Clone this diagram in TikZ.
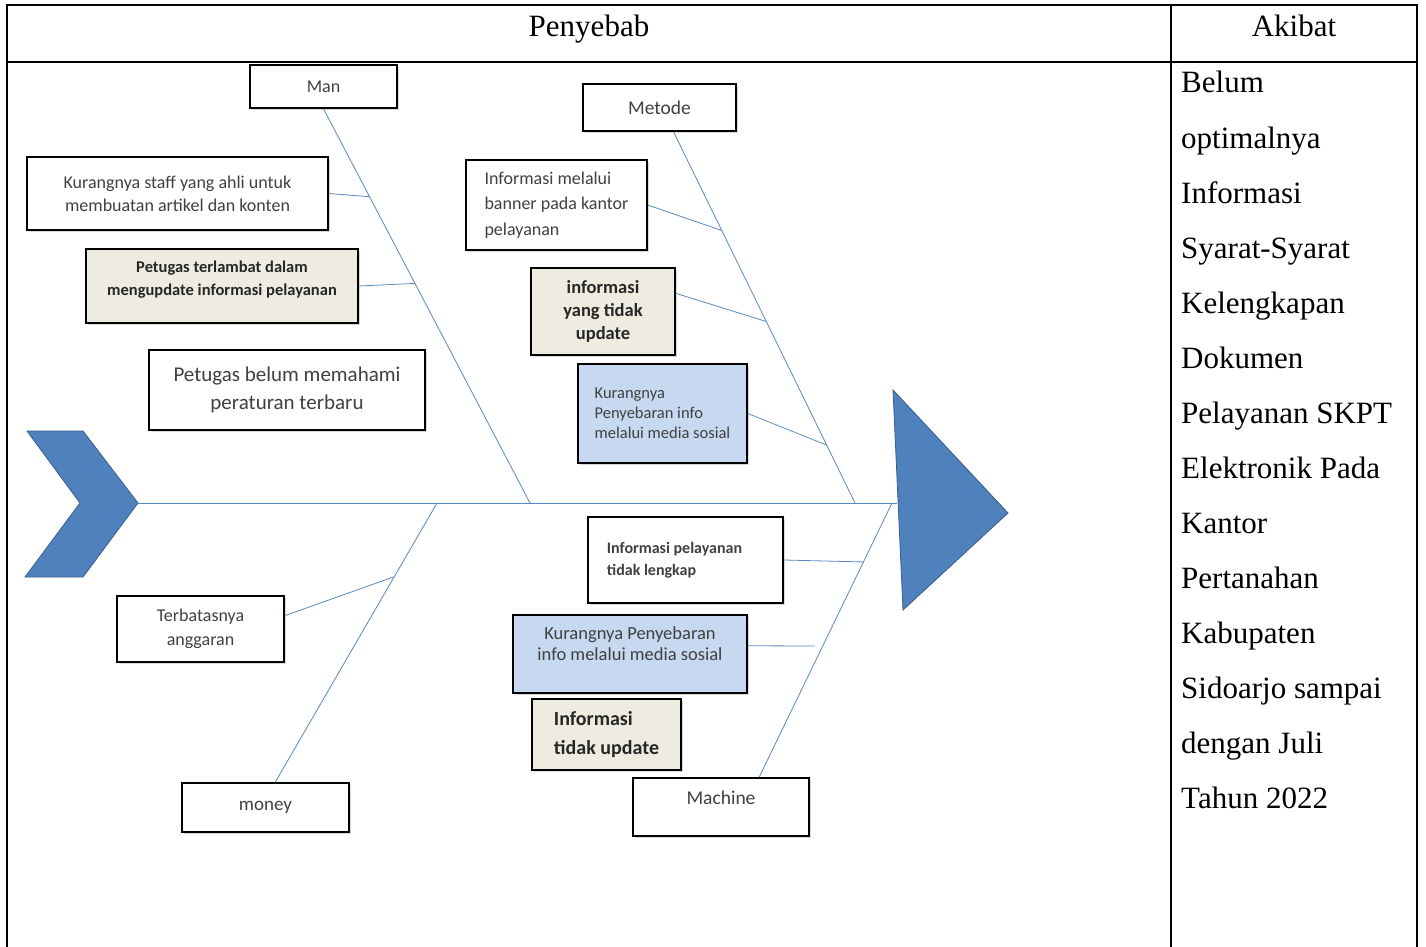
\documentclass[tikz,border=0pt]{standalone}
\usepackage{fontspec}
\setmainfont{Liberation Serif}
\newfontfamily\boxfont{Carlito}
\usetikzlibrary{positioning,shapes,shadows,arrows.meta}
\definecolor{fishblue}{HTML}{4F81BD}
\definecolor{fishedge}{HTML}{385D8A}
\definecolor{bonecol}{HTML}{5B87BE}
\definecolor{beigefill}{HTML}{EEECE1}
\definecolor{bluefill}{HTML}{C6D9F1}

\begin{document}
\begin{tikzpicture}[x=1pt,y=-1pt]
	\tikzstyle{cause}=[rectangle, draw=black, line width=1.6pt, fill=white,
	drop shadow={shadow xshift=1.5pt, shadow yshift=-2pt, opacity=0.3},
	inner sep=0pt, align=center, text=black!75]
	\tikzstyle{causebeige}=[cause, fill=beigefill, text=black!85]
	\tikzstyle{causeblue}=[cause, fill=bluefill]
	\tikzstyle{bone}=[draw=bonecol, line width=0.8pt]
	\tikzstyle{tableline}=[draw=black, line width=1.6pt]
	\tikzstyle{akibat}=[anchor=base west, inner sep=0pt, font=\fontsize{31}{37}\selectfont]
	\useasboundingbox (0,0) rectangle (1426,947);

	% table
	\draw[tableline] (7,947) -- (7,5) -- (1417,5) -- (1417,947);
	\draw[tableline] (7,62) -- (1417,62);
	\draw[tableline] (1171,5) -- (1171,947);
	\node (penyebab) [anchor=base, font=\fontsize{31}{37}\selectfont] at (589,37) {Penyebab};
	\node (akibatHead) [anchor=base, font=\fontsize{31}{37}\selectfont] at (1294,37) {Akibat};
	\foreach \word [count=\i] in {Belum, optimalnya, Informasi, Syarat-Syarat, Kelengkapan,
		Dokumen, Pelayanan SKPT, Elektronik Pada, Kantor, Pertanahan, Kabupaten,
		Sidoarjo sampai, dengan Juli, Tahun 2022}
	\node (eff\i) [akibat] at (1181,{93+55*(\i-1)}) {\word};

	% tail and head
	\draw[fill=fishblue, draw=fishedge, line width=0.8pt]
	(27,431) -- (83,431) -- (138,503) -- (83,577) -- (25,577) -- (80,503) -- cycle;
	\coordinate (tail) at (138,503);
	\coordinate (head) at (897,503);

	% causes
	\node (Man) [cause, minimum width=147pt, minimum height=43pt,
	font=\boxfont\fontsize{18}{22}\selectfont] at (323.5,86.5) {Man};
	\node (Staff) [cause, minimum width=301pt, minimum height=73pt,
	font=\boxfont\fontsize{18}{23}\selectfont] at (177.5,193.5)
	{Kurangnya staff yang ahli untuk\\membuatan artikel dan konten};
	\node (Terlambat) [causebeige, minimum width=272pt, minimum height=74pt,
	font=\boxfont\bfseries\fontsize{16.5}{23}\selectfont] at (222,286)
	{Petugas terlambat dalam\\mengupdate informasi pelayanan\\[-8pt]\mbox{}};
	\node (Memahami) [cause, minimum width=276pt, minimum height=80pt,
	font=\boxfont\fontsize{21}{28}\selectfont] at (287,390)
	{Petugas belum memahami\\peraturan terbaru};

	\node (Metode) [cause, minimum width=153pt, minimum height=47pt,
	font=\boxfont\fontsize{19.5}{23}\selectfont] at (659.5,107.5) {Metode};
	\node (Banner) [cause, minimum width=181pt, minimum height=90pt, align=left,
	font=\boxfont\fontsize{18}{25.5}\selectfont] at (556.5,205)
	{Informasi melalui\\banner pada kantor\\pelayanan};
	\node (TidakUpdA) [causebeige, minimum width=144pt, minimum height=87pt,
	font=\boxfont\bfseries\fontsize{18.5}{23}\selectfont] at (603,311.5)
	{informasi\\yang tidak\\update};
	\node (SosialA) [causeblue, minimum width=169pt, minimum height=99pt, align=left,
	font=\boxfont\fontsize{16.5}{20}\selectfont] at (662.5,413.5)
	{Kurangnya\\Penyebaran info\\melalui media sosial};

	\node (Terbatas) [cause, minimum width=167pt, minimum height=66pt,
	font=\boxfont\fontsize{18}{24}\selectfont] at (200.5,629)
	{Terbatasnya\\anggaran};
	\node (Money) [cause, minimum width=167pt, minimum height=49pt,
	font=\boxfont\fontsize{19}{23}\selectfont] at (265.5,807.5) {money};

	\node (Lengkap) [cause, minimum width=195pt, minimum height=86pt, align=left,
	font=\boxfont\bfseries\fontsize{16}{22}\selectfont] at (685.5,560)
	{Informasi pelayanan\rule{22pt}{0pt}\\tidak lengkap};
	\node (SosialB) [causeblue, minimum width=234pt, minimum height=78pt,
	font=\boxfont\fontsize{18.5}{21}\selectfont] at (630,654)
	{Kurangnya Penyebaran\\info melalui media sosial\\\mbox{}};
	\node (TidakUpdB) [causebeige, minimum width=149pt, minimum height=71pt, align=left,
	font=\boxfont\bfseries\fontsize{20}{29}\selectfont] at (606.5,734.5)
	{Informasi\\tidak update};
	\node (Machine) [cause, minimum width=176pt, minimum height=58pt,
	font=\boxfont\fontsize{19.5}{23}\selectfont] at (721,807) {Machine\\[-4pt]\mbox{}};

	% bones
	\draw[bone] (tail) -- (head);
	\draw[bone] (Man.south) -- coordinate[pos=0.223] (manA) coordinate[pos=0.443] (manB) (530,503);
	\draw[bone] (Metode.300) -- coordinate[pos=0.266] (metA) coordinate[pos=0.511] (metB)
	coordinate[pos=0.844] (metC) (855,503);
	\draw[bone] (Money.69) -- coordinate[pos=0.736] (monA) (437,503);
	\draw[bone] (Machine.38) -- coordinate[pos=0.785] (macA) (892,503);
	\coordinate (sosialEnd) at (815,646);

	\draw[bone] (Staff.east) -- (manA);
	\draw[bone] (Terlambat.east) -- (manB);
	\draw[bone] (Banner.east) -- (metA);
	\draw[bone] (TidakUpdA.14) -- (metB);
	\draw[bone] (SosialA.east) -- (metC);
	\draw[bone] (Terbatas.9) -- (monA);
	\draw[bone] (Lengkap.east) -- (macA);
	\draw[bone] (SosialB.4) -- (sosialEnd);

	\draw[fill=fishblue, draw=fishedge, line width=0.8pt]
	(893,390) -- (1008,513) -- (903,610) -- cycle;
\end{tikzpicture}
\end{document}
